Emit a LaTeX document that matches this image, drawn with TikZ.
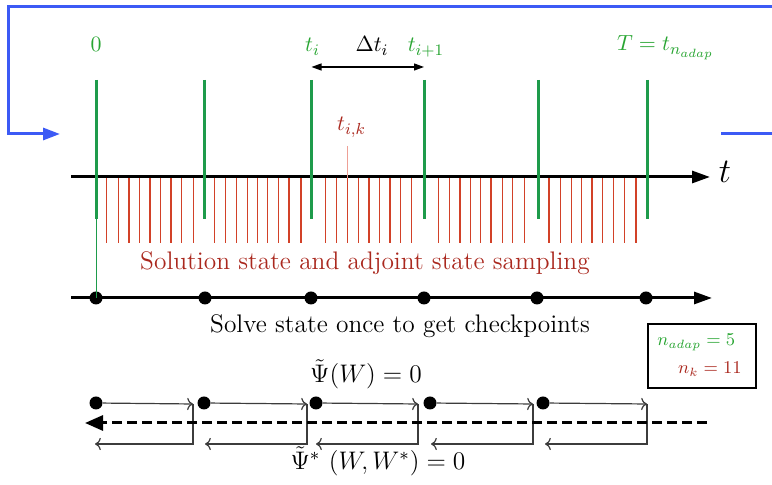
\documentclass[tikz,border=0pt]{standalone}
\usepackage{fix-cm}
\usetikzlibrary{arrows.meta}
\definecolor{gline}{RGB}{30,155,75}
\definecolor{gtext}{RGB}{40,165,50}
\definecolor{rline}{RGB}{210,65,40}
\definecolor{rtext}{RGB}{170,40,30}
\definecolor{pinkline}{RGB}{238,160,150}
\definecolor{bline}{RGB}{60,90,245}
\definecolor{dgray}{RGB}{60,60,60}
\tikzset{
  mainfont/.style={font=\fontsize{12.7}{15}\selectfont},
  mathfont/.style={font=\fontsize{12.7}{15}\selectfont},
  topfont/.style={font=\fontsize{10.95}{13}\selectfont},
  legfont/.style={font=\fontsize{9}{11}\selectfont},
  greenbar/.style={draw=gline,line width=1.5pt},
  redtick/.style={draw=rline,line width=0.75pt},
  axisline/.style={draw=black,line width=1.5pt,-{Triangle[length=9pt,width=6pt]}},
  blueloop/.style={draw=bline,line width=1.5pt},
  dotnode/.style={circle,fill=black,inner sep=0pt,minimum size=6.5pt},
  fwdarrow/.style={draw=dgray,line width=0.6pt,->},
  dashback/.style={draw=black,line width=1.5pt,dash pattern=on 5pt off 2.5pt,-{Triangle[length=9pt,width=7.5pt]}},
  lbl/.style={inner sep=0pt,anchor=base,mainfont},
  mathlbl/.style={inner sep=0pt,anchor=base,mathfont},
  toplbl/.style={inner sep=0pt,anchor=base,topfont},
}
\begin{document}
\begin{tikzpicture}[x=0.5pt,y=-0.5pt]
\useasboundingbox (0,0) rectangle (772,485);

% blue loop
\coordinate (bR) at (772,7);
\coordinate (bTL) at (8,7);
\coordinate (bBL) at (8,134);
\coordinate (bIn) at (60,134);
\coordinate (bOutL) at (721,134);
\coordinate (bOutR) at (772,134);
\draw[blueloop,-{Triangle[length=8.5pt,width=6pt]}] (bR) -- (bTL) -- (bBL) -- (bIn);
\draw[blueloop] (bOutL) -- (bOutR);

% red sampling ticks
\foreach \x [count=\k] in {106.7,118.3,129,139.3,150,160.3,171,181.7,193.3,
  214.3,225.7,236.7,247.3,257.7,267.7,278.3,289,301,
  325.7,336.7,347.7,358.3,369,379.3,390,400.7,411.7,
  438.3,449.7,460,470.3,480.7,491,502.3,512.7,524.7,
  549,560.3,571.3,581.7,592,602.7,613.7,624.7,636}{
  \coordinate (rt\k) at (\x,178);
  \coordinate (rb\k) at (\x,243);
  \draw[redtick] (rt\k) -- (rb\k);
}

% time axis
\coordinate (axL) at (71,177);
\coordinate (axR) at (710,177);
\draw[axisline] (axL) -- (axR);
\node[lbl,font=\fontsize{17.28}{20}\selectfont] (tlab) at (725,183) {$t$};

% green checkpoint bars
\foreach \x [count=\i from 0] in {96,204,311.5,424,538,647.5}{
  \coordinate (gt\i) at (\x,80);
  \coordinate (gb\i) at (\x,219);
  \draw[greenbar] (gt\i) -- (gb\i);
}

% top labels
\node[toplbl,text=gtext] (l0) at (96,52) {$0$};
\node[toplbl,text=gtext] (lti) at (312.5,52) {$t_i$};
\node[toplbl] (ldt) at (372,52) {$\Delta t_i$};
\node[toplbl,text=gtext] (lti1) at (426,52) {$t_{i+1}$};
\node[toplbl,text=gtext] (lT) at (665.5,51) {$T=t_{n_{adap}}$};
\coordinate (dtL) at (311.5,67);
\coordinate (dtR) at (424,67);
\draw[line width=0.6pt,{Triangle[length=5pt,width=3.5pt]}-{Triangle[length=5pt,width=3.5pt]}] (dtL) -- (dtR);

% t_{i,k}
\node[toplbl,text=rtext] (ltik) at (351.5,131) {$t_{i,k}$};
\coordinate (pkT) at (347.7,146);
\coordinate (pkB) at (347.7,178);
\draw[pinkline,line width=0.5pt] (pkT) -- (pkB);

\node[lbl,text=rtext] (lsamp) at (365,270) {Solution state and adjoint state sampling};

% checkpoint axis
\coordinate (ax2L) at (71,298);
\coordinate (ax2R) at (712,298);
\draw[axisline] (ax2L) -- (ax2R);
\foreach \x [count=\i from 0] in {96,205,311,424,537,646}{
  \node[dotnode] (c\i) at (\x,298) {};
}
\draw[gline,line width=0.5pt] (gb0) -- (c0.center);

\node[lbl] (lsolve) at (400,333) {Solve state once to get checkpoints};

% legend
\node[draw=black,line width=0.6pt,minimum width=54pt,minimum height=32pt,inner sep=0pt] (leg) at (702,356) {};
\node[inner sep=0pt,legfont,anchor=base west,text=gtext] (lna) at (657,346) {$n_{adap}=5$};
\node[inner sep=0pt,legfont,anchor=base east,text=rtext] (lnk) at (742,374) {$n_k=11$};

\node[mathlbl] (lpsi) at (366,383) {$\tilde{\Psi}(W)=0$};

% forward / backward sweeps
\foreach \x/\f/\r [count=\i] in {96/193/95,204/307/205,316/418/316,430/533/431,543/647/545}{
  \node[dotnode] (s\i) at (\x,403) {};
  \coordinate (f\i) at (\f,404);
  \coordinate (v\i) at (\f,444);
  \coordinate (r\i) at (\r,444);
  \draw[fwdarrow] (s\i) -- (f\i);
  \draw[fwdarrow] (f\i) -- (v\i) -- (r\i);
}
\coordinate (dR) at (707,423);
\coordinate (dL) at (85,423);
\draw[dashback] (dR) -- (dL);

\node[mathlbl] (lpsis) at (378,470) {$\tilde{\Psi}^{*}\,\left(W,W^{*}\right)=0$};
\end{tikzpicture}
\end{document}
